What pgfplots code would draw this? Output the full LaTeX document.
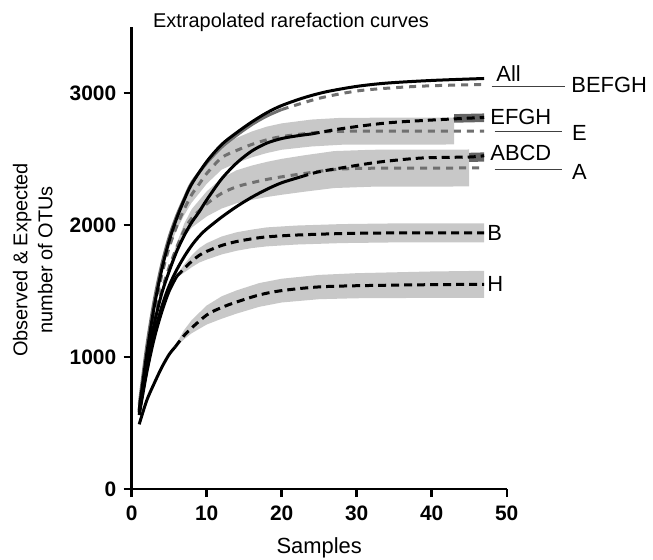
\documentclass[border=0pt]{standalone}
\usepackage{fontspec}
\setmainfont{Liberation Sans}
\usepackage{pgfplots}
\pgfplotsset{compat=1.18}
\definecolor{bandgray}{RGB}{200,200,200}
\definecolor{midgray}{RGB}{112,112,112}
\definecolor{darkblock}{RGB}{100,100,100}

\begin{document}
\begin{tikzpicture}
\begin{axis}[
    scale only axis,
    width=375bp, height=462bp,
    xmin=0, xmax=50, ymin=0, ymax=3500,
    axis x line=bottom, axis y line=left,
    axis line style={-, line width=2.4bp},
    xtick={0,10,...,50}, ytick={0,1000,2000,3000},
    tick align=outside, major tick length=8bp,
    tick style={line width=2.4bp, black},
    ticklabel style={font=\fontsize{21}{24}\selectfont\bfseries},
    xticklabel style={yshift=-5bp},
    yticklabel style={xshift=-4bp},
    /pgf/number format/assume math mode=true,
    /pgf/number format/1000 sep={},
    scaled y ticks=false,
    clip=false,
]

% confidence bands (light)
% H
\addplot[fill=bandgray, draw=none] coordinates {
    (5.8,1086) (7,1205) (8,1280) (10,1390) (12,1460) (14,1505) (17,1560) (20,1593)
    (25,1622) (30,1635) (40,1648) (47,1653)
    (47,1447) (40,1448) (30,1445) (25,1438) (20,1413) (17,1380) (14,1329) (12,1290)
    (10,1246) (8,1180) (7,1135) (5.8,1066)
};
% B
\addplot[fill=bandgray, draw=none] coordinates {
    (6,1620) (7,1700) (8,1770) (9,1825) (10,1862) (12,1913) (14,1945) (16,1965)
    (18,1982) (22,1996) (28,2007) (35,2012) (47,2012)
    (47,1868) (35,1868) (28,1863) (22,1852) (18,1838) (16,1825) (14,1805) (12,1777)
    (10,1738) (9,1715) (8,1680) (7,1640) (6,1600)
};
% A
\addplot[fill=bandgray, draw=none] coordinates {
    (5,1685) (6,1860) (7,2010) (8,2120) (10,2255) (12,2355) (14,2415) (16,2450)
    (18,2478) (20,2501) (23,2528) (27,2560) (32,2570) (45,2572)
    (45,2292) (32,2290) (27,2280) (23,2252) (20,2229) (18,2212) (16,2190) (14,2165)
    (12,2125) (10,2065) (8,1980) (7,1910) (6,1800) (5,1675)
};
% E
\addplot[fill=bandgray, draw=none] coordinates {
    (5,1835) (6,2015) (7,2165) (8,2290) (9,2380) (10,2468) (12,2600) (14,2660)
    (16,2708) (18,2745) (20,2770) (24,2799) (28,2812) (43,2814)
    (43,2610) (28,2608) (24,2595) (20,2570) (18,2545) (16,2512) (14,2470) (12,2420)
    (10,2312) (9,2240) (8,2170) (7,2075) (6,1965) (5,1825)
};
% bands of the pooled sets (dark)
\addplot[fill=darkblock, draw=none] coordinates {(43,2840) (47,2845) (47,2780) (43,2775)};
\addplot[fill=darkblock, draw=none] coordinates {(45,2547) (47,2550) (47,2480) (45,2478)};

% E (grey dashed)
\addplot[midgray, line width=3bp, dash pattern=on 7bp off 6bp, smooth] coordinates {
    (1,600) (2,1000) (3,1330) (4,1620) (5,1830) (6,1990) (7,2120) (8,2230) (9,2310)
    (10,2390) (12,2510) (14,2565) (16,2610) (18,2645) (20,2670) (24,2697) (28,2710) (47,2712)
};
% A (grey dashed)
\addplot[midgray, line width=3bp, dash pattern=on 7bp off 6bp, smooth] coordinates {
    (1,590) (2,960) (3,1260) (4,1500) (5,1680) (6,1830) (7,1960) (8,2050) (10,2160)
    (12,2240) (14,2290) (16,2320) (18,2345) (20,2365) (23,2390) (27,2420) (32,2430) (47,2432)
};
% BEFGH (grey)
\addplot[midgray, line width=3bp, smooth] coordinates {
    (1,640) (2,1080) (3,1430) (4,1700) (5,1910) (6,2070) (7,2200) (8,2320) (10,2470)
    (12,2590) (14,2680) (16,2760) (18,2825) (20,2875)
};
\addplot[midgray, line width=3bp, dash pattern=on 7bp off 6bp, smooth] coordinates {
    (20,2875) (25,2960) (30,3015) (35,3040) (40,3055) (47,3065)
};

% All
\addplot[black, line width=3bp, smooth] coordinates {
    (1,600) (2,1020) (3,1380) (4,1660) (5,1880) (6,2050) (7,2190) (8,2310) (10,2480)
    (12,2610) (14,2700) (16,2780) (18,2850) (20,2905) (23,2965) (26,3010) (30,3050)
    (34,3075) (40,3095) (47,3110)
};
% EFGH
\addplot[black, line width=3bp, smooth] coordinates {
    (1,580) (2,950) (3,1250) (4,1480) (5,1650) (6,1800) (7,1920) (8,2020) (9,2100)
    (10,2190) (12,2350) (14,2470) (16,2560) (18,2620) (20,2655) (22,2675) (24,2690)
};
\addplot[black, line width=3bp, dash pattern=on 8bp off 5bp, smooth] coordinates {
    (24,2690) (28,2730) (34,2773) (40,2795) (47,2815)
};
% ABCD
\addplot[black, line width=3bp, smooth] coordinates {
    (1,580) (2,900) (3,1170) (4,1380) (5,1540) (6,1660) (7,1760) (8,1845) (9,1915)
    (10,1970) (12,2060) (14,2140) (16,2210) (18,2270) (20,2320) (22.5,2364)
};
\addplot[black, line width=3bp, dash pattern=on 8bp off 5bp, smooth] coordinates {
    (22.5,2364) (24.7,2400) (27.7,2430) (33,2477) (38.8,2508) (45,2515) (47,2525)
};
% B
\addplot[black, line width=3bp, smooth] coordinates {
    (1,560) (2,880) (3,1140) (4,1340) (5,1500) (6,1610)
};
\addplot[black, line width=3bp, dash pattern=on 8bp off 5bp, smooth] coordinates {
    (6,1610) (7,1670) (8,1725) (9,1770) (10,1800) (12,1845) (14,1875) (16,1895)
    (18,1910) (22,1924) (28,1935) (35,1940) (47,1940)
};
% H
\addplot[black, line width=3bp, smooth] coordinates {
    (1,490) (2,670) (3,800) (4,920) (5,1020) (5.8,1076)
};
\addplot[black, line width=3bp, dash pattern=on 8bp off 5bp, smooth] coordinates {
    (5.8,1076) (7.3,1182) (10,1318) (12,1375) (14,1417) (17,1470) (20,1503)
    (24.7,1530) (30,1540) (40,1548) (47,1550)
};

% labels
\tikzset{lab/.style={anchor=west, inner sep=0pt, font=\fontsize{22}{26}\selectfont}}
\node[lab] at (axis cs:48.6,3150) {All};
\node[lab] at (axis cs:58.6,3060) {BEFGH};
\node[lab] at (axis cs:47.8,2818) {EFGH};
\node[lab] at (axis cs:58.7,2697) {E};
\node[lab] at (axis cs:47.8,2545) {ABCD};
\node[lab] at (axis cs:58.7,2400) {A};
\node[lab] at (axis cs:47.4,1939) {B};
\node[lab] at (axis cs:47.4,1553) {H};
\draw[line width=1bp, black!75] (axis cs:48,3053) -- (axis cs:57.8,3053);
\draw[line width=1bp, black!75] (axis cs:48.4,2705) -- (axis cs:57.4,2705);
\draw[line width=1bp, black!75] (axis cs:48.4,2424) -- (axis cs:57.4,2424);

\node[anchor=west, inner sep=0pt, font=\fontsize{20}{24}\selectfont]
    at (axis cs:2.84,3538) {Extrapolated rarefaction curves};
\node[rotate=90, align=center, font=\fontsize{20}{25}\selectfont]
    at (axis cs:-13.2,1735) {Observed \& Expected\\number of OTUs};
\node[anchor=base, font=\fontsize{22}{25}\selectfont]
    at (axis cs:25,-485) {Samples};
\end{axis}
\pgfresetboundingbox
\path[use as bounding box] (-131.7bp,-71bp) rectangle (521.3bp,489bp);
\end{tikzpicture}
\end{document}
